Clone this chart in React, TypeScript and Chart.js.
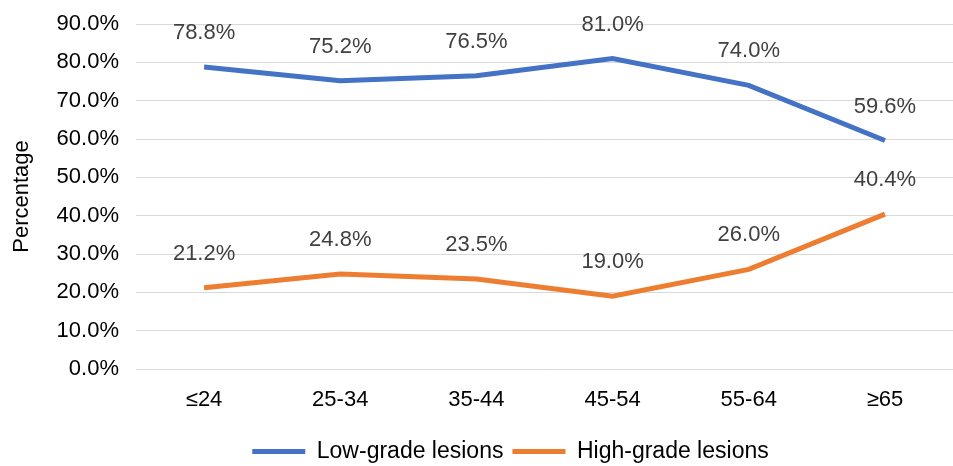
import React, { useEffect, useRef } from "react";
import { Chart, registerables } from "chart.js";

Chart.register(...registerables);

const categories = ["≤24", "25-34", "35-44", "45-54", "55-64", "≥65"];
const lowGrade = [78.8, 75.2, 76.5, 81.0, 74.0, 59.6];
const highGrade = [21.2, 24.8, 23.5, 19.0, 26.0, 40.4];
const seriesNames = ["Low-grade lesions", "High-grade lesions"];
const yTicksMax = 90;

const FONT = "'Liberation Sans', Arial, sans-serif";
const FS = 22;
const LEGEND_FS = 23;
const LEGEND_PAD = 9;
const LEGEND_SHIFT = 34;

const dataLabelPlugin = {
  id: "dataLabels",
  afterDatasetsDraw(chart: any) {
    const ctx = chart.ctx;
    ctx.save();
    ctx.font = `${FS}px ${FONT}`;
    ctx.fillStyle = "#404040";
    ctx.textAlign = "center";
    ctx.textBaseline = "middle";
    chart.data.datasets.forEach((ds: any, i: number) => {
      const meta = chart.getDatasetMeta(i);
      meta.data.forEach((pt: any, j: number) => {
        const v = ds.data[j] as number;
        ctx.fillText(v.toFixed(1) + "%", pt.x, pt.y - 34);
      });
    });
    ctx.restore();
  },
};

const legendShiftPlugin = {
  id: "legendShift",
  afterLayout(chart: any) {
    const l = chart.legend;
    if (l) {
      l.left += LEGEND_SHIFT;
      l.right += LEGEND_SHIFT;
    }
  },
};

export default function App() {
  const ref = useRef<HTMLCanvasElement>(null);
  useEffect(() => {
    const chart = new Chart(ref.current!, {
      type: "line",
      data: {
        labels: categories,
        datasets: [
          {
            label: seriesNames[0],
            data: lowGrade,
            borderColor: "#4472C4",
            backgroundColor: "#4472C4",
            borderWidth: 5,
            pointRadius: 0,
            tension: 0,
          },
          {
            label: seriesNames[1],
            data: highGrade,
            borderColor: "#ED7D31",
            backgroundColor: "#ED7D31",
            borderWidth: 5,
            pointRadius: 0,
            tension: 0,
          },
        ],
      },
      options: {
        animation: false,
        responsive: false,
        maintainAspectRatio: false,
        layout: { padding: { top: 24, right: 0, left: 0, bottom: -7 } },
        plugins: {
          tooltip: { enabled: false },
          legend: {
            position: "bottom",
            labels: {
              boxWidth: 53,
              boxHeight: 5,
              color: "#000",
              font: { family: FONT, size: LEGEND_FS },
              padding: LEGEND_PAD,
              generateLabels: (c: any) =>
                Chart.defaults.plugins.legend.labels
                  .generateLabels(c)
                  .map((it: any) => ({ ...it, lineWidth: 0, strokeStyle: "rgba(0,0,0,0)" })),
            },
          },
        },
        scales: {
          x: {
            offset: true,
            grid: { display: false, drawTicks: false },
            border: { display: false },
            ticks: {
              color: "#000",
              font: { family: FONT, size: FS },
              padding: 18,
              maxRotation: 0,
            },
            afterFit: (scale: any) => {
              scale.height = 71 - LEGEND_PAD;
            },
          },
          y: {
            min: 0,
            max: yTicksMax,
            grid: { color: "#D9D9D9", lineWidth: 1, drawTicks: false },
            border: { display: false },
            ticks: {
              stepSize: 10,
              color: "#000",
              font: { family: FONT, size: FS },
              padding: 17,
              callback: (v: any) => Number(v).toFixed(1) + "%",
            },
            title: {
              display: true,
              text: "Percentage",
              color: "#000",
              font: { family: FONT, size: FS },
              padding: { top: 9, bottom: 0 },
            },
            afterFit: (scale: any) => {
              scale.width = 136;
              scale.paddingTop = 0;
              scale.paddingBottom = 0;
            },
          },
        },
      },
      plugins: [dataLabelPlugin, legendShiftPlugin],
    });
    return () => chart.destroy();
  }, []);
  return (
    <div style={{ position: "fixed", left: 0, top: 0, width: 953, height: 466, background: "#fff" }}>
      <canvas ref={ref} width={953} height={466} />
    </div>
  );
}
